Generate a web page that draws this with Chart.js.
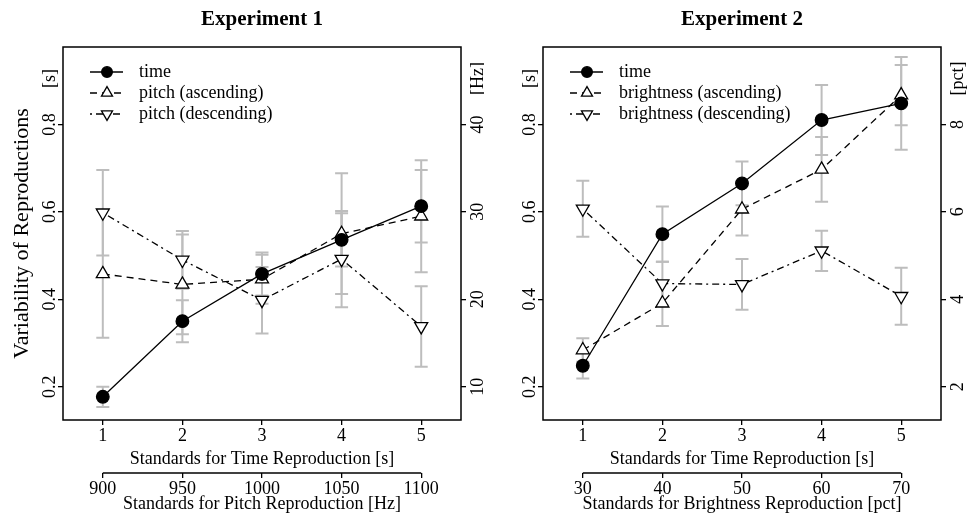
<!DOCTYPE html>
<html>
<head>
<meta charset="utf-8">
<script src="https://cdn.jsdelivr.net/npm/chart.js@4.4.1/dist/chart.umd.min.js"></script>
<style>
  body { margin: 0; background: #fff; }
  #wrap { position: relative; width: 969px; height: 517px; }
  canvas { position: absolute; top: 0; }
</style>
</head>
<body>
<div id="wrap">
  <canvas id="exp1" width="484" height="517" style="left:0"></canvas>
  <canvas id="exp2" width="485" height="517" style="left:484px"></canvas>
</div>
<script>
// x categories (standards)
const standards = [1, 2, 3, 4, 5];
const pitchStandards = [900, 950, 1000, 1050, 1100];
const brightStandards = [30, 40, 50, 60, 70];

// tick labels
const secTicks = [0.2, 0.4, 0.6, 0.8];
const hzTicks = [10, 20, 30, 40];
const pctTicks = [2, 4, 6, 8];

// Experiment 1 (time in s, pitch in Hz)
const time1 = [0.177, 0.350, 0.458, 0.536, 0.613];
const time1Err = [0.023, 0.048, 0.049, 0.061, 0.083];
const pitchAsc = [22.9, 21.7, 22.3, 27.5, 29.5];
const pitchAscErr = [7.3, 5.7, 2.8, 6.9, 6.4];
const pitchDesc = [29.9, 24.5, 19.9, 24.6, 16.9];
const pitchDescErr = [4.9, 3.3, 3.8, 5.5, 4.6];

// Experiment 2 (time in s, brightness in pct)
const time2 = [0.248, 0.549, 0.665, 0.810, 0.848];
const time2Err = [0.029, 0.063, 0.050, 0.080, 0.106];
const brightAsc = [2.84, 3.91, 6.06, 6.97, 8.67];
const brightAscErr = [0.27, 0.52, 0.60, 0.74, 0.69];
const brightDesc = [6.07, 4.36, 4.34, 5.11, 4.07];
const brightDescErr = [0.64, 0.50, 0.58, 0.46, 0.65];

const FONT = "'Liberation Serif', 'Times New Roman', serif";
Chart.defaults.font.family = FONT;
Chart.defaults.font.size = 18;
Chart.defaults.color = '#000';

const tickGrid = { drawOnChartArea: false, drawTicks: true, tickLength: 5, color: '#000', lineWidth: 1.3 };

// error bars, frame, rotated y labels, legend, title
const rStyle = {
  id: 'rStyle',
  beforeDatasetsDraw(chart) {
    const ctx = chart.ctx;
    const xs = chart.scales.x;
    ctx.save();
    ctx.strokeStyle = '#bdbdbd';
    ctx.lineWidth = 2;
    chart.data.datasets.forEach(ds => {
      const ys = chart.scales[ds.yAxisID];
      ds.data.forEach((p, j) => {
        const e = ds.errors[j];
        const px = xs.getPixelForValue(p.x);
        const top = ys.getPixelForValue(p.y + e);
        const bot = ys.getPixelForValue(p.y - e);
        ctx.beginPath();
        ctx.moveTo(px, top); ctx.lineTo(px, bot);
        ctx.moveTo(px - 6.5, top); ctx.lineTo(px + 6.5, top);
        ctx.moveTo(px - 6.5, bot); ctx.lineTo(px + 6.5, bot);
        ctx.stroke();
      });
    });
    ctx.restore();
  },
  afterDraw(chart, args, opts) {
    const ctx = chart.ctx;
    const ca = chart.chartArea;
    const y = chart.scales.y, y2 = chart.scales.y2, x2 = chart.scales.x2;
    ctx.save();
    ctx.strokeStyle = '#000';
    ctx.lineWidth = 1.5;
    ctx.strokeRect(ca.left, ca.top, ca.right - ca.left, ca.bottom - ca.top);

    // secondary axis line between first and last tick
    const t2 = x2.ticks;
    ctx.lineWidth = 1.3;
    ctx.beginPath();
    ctx.moveTo(x2.getPixelForValue(t2[0].value), x2.top);
    ctx.lineTo(x2.getPixelForValue(t2[t2.length - 1].value), x2.top);
    ctx.stroke();

    // rotated tick labels
    ctx.fillStyle = '#000';
    ctx.font = '18px ' + FONT;
    ctx.textAlign = 'center';
    ctx.textBaseline = 'middle';
    const rot = (txt, px, py) => {
      ctx.save();
      ctx.translate(px, py);
      ctx.rotate(-Math.PI / 2);
      ctx.fillText(txt, 0, 0);
      ctx.restore();
    };
    y.ticks.forEach(t => rot(String(t.value), ca.left - 13, y.getPixelForValue(t.value)));
    y2.ticks.forEach(t => rot(String(t.value), ca.right + 17, y2.getPixelForValue(t.value)));
    const unitY = y.getPixelForValue(0.905);
    rot('[s]', ca.left - 13, unitY);
    rot(opts.rightUnit, ca.right + 17, unitY);

    // legend
    chart.data.datasets.forEach((ds, i) => {
      const ly = ca.top + 25 + 21 * i;
      const lx = ca.left + 27;
      ctx.save();
      ctx.lineWidth = ds.borderWidth;
      ctx.setLineDash(ds.borderDash || []);
      ctx.beginPath();
      ctx.moveTo(lx, ly);
      ctx.lineTo(lx + 33, ly);
      ctx.stroke();
      ctx.setLineDash([]);
      ctx.fillStyle = ds.pointBackgroundColor;
      ctx.lineWidth = ds.pointBorderWidth;
      Chart.helpers.drawPoint(ctx, {
        pointStyle: ds.pointStyle, rotation: ds.pointRotation,
        radius: ds.pointRadius * 0.85, borderWidth: ds.pointBorderWidth
      }, lx + 17, ly);
      ctx.restore();
      ctx.textAlign = 'left';
      ctx.fillText(ds.label, lx + 49, ly);
    });

    // panel title
    ctx.font = 'bold 21px ' + FONT;
    ctx.textAlign = 'center';
    ctx.textBaseline = 'alphabetic';
    ctx.fillText(opts.title, (ca.left + ca.right) / 2, 25);
    ctx.restore();
  }
};

function series(label, values, errors, axis, kind) {
  const circle = kind === 'time';
  return {
    label: label,
    data: standards.map((s, i) => ({ x: s, y: values[i] })),
    errors: errors,
    yAxisID: axis,
    borderColor: '#000',
    borderWidth: 1.3,
    borderDash: kind === 'asc' ? [7, 5] : kind === 'desc' ? [2, 4, 7, 4] : [],
    pointStyle: circle ? 'circle' : 'triangle',
    pointRotation: kind === 'desc' ? 180 : 0,
    pointRadius: circle ? 6.3 : 7.5,
    pointBackgroundColor: circle ? '#000' : '#fff',
    pointBorderColor: '#000',
    pointBorderWidth: 1.3,
    fill: false,
    tension: 0
  };
}

function buildChart(id, o) {
  const fixTicks = vals => axis => { axis.ticks = vals.map(v => ({ value: v })); };
  return new Chart(document.getElementById(id), {
    type: 'line',
    data: { datasets: o.datasets },
    options: {
      responsive: false,
      animation: false,
      events: [],
      layout: { padding: { top: 47, left: 0, right: 0, bottom: 0 } },
      plugins: {
        legend: { display: false },
        tooltip: { enabled: false },
        rStyle: { title: o.title, rightUnit: o.rightUnit }
      },
      scales: {
        x: {
          type: 'linear', position: 'bottom', weight: 0, min: 0.5, max: 5.5,
          afterBuildTicks: fixTicks(standards),
          afterFit: a => { a.height = 53; },
          border: { display: false },
          grid: tickGrid,
          ticks: { padding: 0, autoSkip: false, maxRotation: 0, callback: v => String(v) },
          title: { display: true, text: 'Standards for Time Reproduction [s]', padding: { top: 0, bottom: 3 } }
        },
        x2: {
          type: 'linear', position: 'bottom', weight: 1,
          min: o.secTicks[0] - (o.secTicks[1] - o.secTicks[0]) / 2,
          max: o.secTicks[4] + (o.secTicks[1] - o.secTicks[0]) / 2,
          afterBuildTicks: fixTicks(o.secTicks),
          afterFit: a => { a.height = 44; },
          border: { display: false },
          grid: tickGrid,
          ticks: { padding: 0, autoSkip: false, maxRotation: 0, callback: v => String(v) },
          title: { display: true, text: o.secTitle, padding: { top: 0, bottom: 2 } }
        },
        y: {
          type: 'linear', position: 'left', min: 0.124, max: 0.977,
          afterBuildTicks: fixTicks(secTicks),
          afterFit: a => { a.width = o.leftWidth; },
          border: { display: false },
          grid: tickGrid,
          ticks: { display: false },
          title: { display: !!o.yTitle, text: o.yTitle || '', font: { size: 22 }, padding: { top: 9 } }
        },
        y2: {
          type: 'linear', position: 'right', min: o.rightMin, max: o.rightMax,
          afterBuildTicks: fixTicks(o.rightTicks),
          afterFit: a => { a.width = o.rightWidth; },
          border: { display: false },
          grid: tickGrid,
          ticks: { display: false }
        }
      }
    },
    plugins: [rStyle]
  });
}

buildChart('exp1', {
  title: 'Experiment 1',
  yTitle: 'Variability of Reproductions',
  rightUnit: '[Hz]',
  leftWidth: 63, rightWidth: 23,
  rightMin: 6.2, rightMax: 48.85, rightTicks: hzTicks,
  secTicks: pitchStandards,
  secTitle: 'Standards for Pitch Reproduction [Hz]',
  datasets: [
    series('time', time1, time1Err, 'y', 'time'),
    series('pitch (ascending)', pitchAsc, pitchAscErr, 'y2', 'asc'),
    series('pitch (descending)', pitchDesc, pitchDescErr, 'y2', 'desc')
  ]
});

buildChart('exp2', {
  title: 'Experiment 2',
  rightUnit: '[pct]',
  leftWidth: 59, rightWidth: 28,
  rightMin: 1.24, rightMax: 9.77, rightTicks: pctTicks,
  secTicks: brightStandards,
  secTitle: 'Standards for Brightness Reproduction [pct]',
  datasets: [
    series('time', time2, time2Err, 'y', 'time'),
    series('brightness (ascending)', brightAsc, brightAscErr, 'y2', 'asc'),
    series('brightness (descending)', brightDesc, brightDescErr, 'y2', 'desc')
  ]
});
</script>
</body>
</html>
